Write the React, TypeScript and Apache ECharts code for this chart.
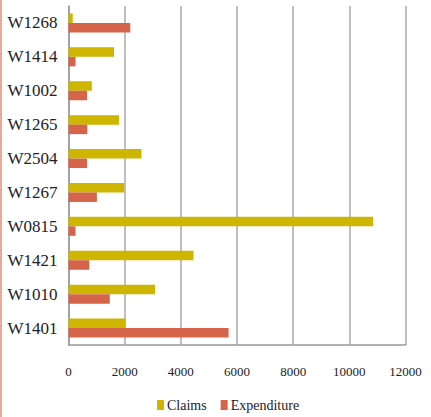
import React, { useEffect, useRef } from "react";
import * as echarts from "echarts";

const categories = ["W1268", "W1414", "W1002", "W1265", "W2504", "W1267", "W0815", "W1421", "W1010", "W1401"];
const claims = [150, 1620, 830, 1800, 2600, 1980, 10850, 4450, 3080, 2030];
const expenditure = [2200, 250, 660, 670, 660, 1010, 250, 740, 1470, 5700];
const xTicks = [0, 2000, 4000, 6000, 8000, 10000, 12000];

const FONT = "Liberation Serif";

export default function App() {
  const ref = useRef<HTMLDivElement>(null);
  useEffect(() => {
    if (!ref.current) return;
    const chart = echarts.init(ref.current, null, { renderer: "svg" });
    chart.setOption({
      animation: false,
      backgroundColor: "#ffffff",
      textStyle: { fontFamily: FONT },
      graphic: [
        {
          type: "rect",
          shape: { x: 0, y: 0, width: 2, height: 417 },
          style: { fill: "#E9A899" },
        },
      ],
      legend: {
        data: ["Claims", "Expenditure"],
        left: 152,
        top: 393,
        itemWidth: 7,
        itemHeight: 10,
        itemGap: 14,
        icon: "rect",
        textStyle: { fontFamily: FONT, fontSize: 14, color: "#222", padding: [0, 0, 0, -2] },
      },
      grid: {
        left: 68.5,
        right: 25.5,
        top: 6,
        bottom: 72,
        containLabel: false,
        outerBoundsMode: "none",
      },
      xAxis: {
        type: "value",
        min: xTicks[0],
        max: xTicks[xTicks.length - 1],
        interval: 2000,
        axisLine: { show: true, lineStyle: { color: "#999", width: 1.5 } },
        axisTick: { show: false },
        splitLine: { show: true, lineStyle: { color: "#aaa", width: 1.5 } },
        axisLabel: {
          fontFamily: FONT,
          fontSize: 13,
          color: "#222",
          margin: 20,
          formatter: (v: number) => String(v),
        },
      },
      yAxis: {
        type: "category",
        inverse: true,
        data: categories,
        axisLine: { show: true, lineStyle: { color: "#999", width: 1.5 } },
        axisTick: { show: false },
        axisLabel: { fontFamily: FONT, fontSize: 17, color: "#222", margin: 11 },
      },
      series: [
        {
          name: "Claims",
          type: "bar",
          data: claims,
          barWidth: 9.5,
          barGap: "0%",
          itemStyle: { color: "#CDB500" },
        },
        {
          name: "Expenditure",
          type: "bar",
          data: expenditure,
          barWidth: 9.5,
          barGap: "0%",
          itemStyle: { color: "#D6644B" },
        },
      ],
    });
    return () => chart.dispose();
  }, []);
  return (
    <div
      ref={ref}
      style={{ position: "fixed", left: 0, top: 0, width: 431, height: 417 }}
    />
  );
}
